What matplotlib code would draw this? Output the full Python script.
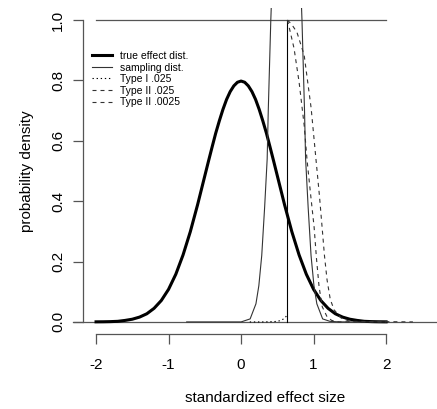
import numpy as np
import matplotlib
matplotlib.use("Agg")
import matplotlib.pyplot as plt

plt.rcParams['font.family'] = ['Liberation Sans', 'DejaVu Sans']

# true effect distribution
true_x = [-2.0, -1.9, -1.8, -1.7, -1.6, -1.5, -1.4, -1.3, -1.2, -1.1, -1.0,
          -0.9, -0.8, -0.7, -0.6, -0.5, -0.45, -0.4, -0.35, -0.3, -0.25, -0.2, -0.15, -0.1, -0.05, 0.0,
          0.05, 0.1, 0.15, 0.2, 0.25, 0.3, 0.35, 0.4, 0.45, 0.5, 0.6, 0.7, 0.8, 0.9, 1.0,
          1.1, 1.2, 1.3, 1.4, 1.5, 1.6, 1.7, 1.8, 1.9, 2.0]
true_y = [0.0003, 0.0005, 0.001, 0.002, 0.005, 0.009, 0.016, 0.027, 0.045, 0.071, 0.108,
          0.158, 0.222, 0.299, 0.388, 0.484, 0.532, 0.579, 0.625, 0.666, 0.704, 0.737, 0.763, 0.782, 0.794, 0.798,
          0.794, 0.782, 0.763, 0.737, 0.704, 0.666, 0.625, 0.579, 0.532, 0.484, 0.388, 0.299, 0.222, 0.158, 0.108,
          0.071, 0.045, 0.027, 0.016, 0.009, 0.005, 0.002, 0.001, 0.0005, 0.0003]

# sampling distribution (peak runs off the top)
samp_x = [-0.75, 0.0, 0.025, 0.125, 0.205, 0.245, 0.285, 0.325, 0.36, 0.375, 0.41,
          0.425, 0.475, 0.525, 0.575, 0.625, 0.675, 0.725, 0.775, 0.825, 0.84,
          0.875, 0.89, 0.925, 0.965, 1.005, 1.045, 1.125, 1.225, 1.35, 2.0]
samp_y = [0, 0, 0.002, 0.01, 0.06, 0.12, 0.22, 0.38, 0.54, 0.7, 1.0,
          1.1, 1.6, 2.2, 2.7, 2.9, 2.7, 2.2, 1.6, 1.1, 1.0,
          0.7, 0.54, 0.38, 0.22, 0.12, 0.06, 0.01, 0.002, 0, 0]

# Type I .025 (dotted)
t1_x = [0.12, 0.3, 0.45, 0.5, 0.55, 0.6, 0.62, 0.64]
t1_y = [0, 0, 0.001, 0.002, 0.005, 0.012, 0.018, 0.025]

# Type II .025
t2a_x = [0.64, 0.65, 0.73, 0.80, 0.87, 0.91, 0.96, 1.007, 1.04, 1.076, 1.12, 1.186, 1.25, 1.35, 2.0]
t2a_y = [1.0, 0.99, 0.907, 0.795, 0.652, 0.536, 0.42, 0.315, 0.21, 0.116, 0.05, 0.017, 0.005, 0, 0]

# Type II .0025
t2b_x = [0.64, 0.66, 0.7, 0.77, 0.87, 0.966, 1.034, 1.08, 1.117, 1.15, 1.186, 1.23, 1.283, 1.38, 1.5, 2.37]
t2b_y = [1.0, 0.995, 0.985, 0.96, 0.884, 0.709, 0.536, 0.42, 0.315, 0.22, 0.139, 0.075, 0.04, 0.013, 0.002, 0]

crit = 0.64
xticks = [-2, -1, 0, 1, 2]
yticks = [0.0, 0.2, 0.4, 0.6, 0.8, 1.0]
labels = ['true effect dist.', 'sampling dist.', 'Type I .025', 'Type II .025', 'Type II .0025']

W, H = 437, 409
fig = plt.figure(figsize=(W / 100, H / 100), dpi=100)
ax = fig.add_axes([83 / W, 75 / H, 364 / W, 326 / H])
ax.set_xlim(-2.18, 2.84)
ax.set_ylim(-0.04, 1.04)

gray = '#555555'
dash = (0, (3.6, 3.6))

ax.axhline(0, xmin=-0.0275, xmax=1, color=gray, lw=0.9, clip_on=False)
ax.plot([-2, 2], [1, 1], color=gray, lw=0.9)
ax.plot([crit, crit], [0, 1], color='black', lw=0.8)

l1, = ax.plot(true_x, true_y, color='black', lw=2.2)
l2, = ax.plot(samp_x, samp_y, color='#333333', lw=0.8)
l3, = ax.plot(t1_x, t1_y, color='black', lw=0.8, linestyle=(0, (1.2, 2.5)))
l4, = ax.plot(t2a_x, t2a_y, color='#333333', lw=0.8, linestyle=dash)
l5, = ax.plot(t2b_x, t2b_y, color='#333333', lw=0.8, linestyle=dash)

ax.legend([l1, l2, l3, l4, l5], labels, loc='upper left',
          bbox_to_anchor=(92 / W, 1 - 51 / H), bbox_transform=fig.transFigure,
          frameon=False, fontsize=7.5, handlelength=1.95, handletextpad=0.75,
          labelspacing=0.15, borderpad=0, borderaxespad=0)

for s in ['top', 'right']:
    ax.spines[s].set_visible(False)
ax.spines['left'].set_bounds(0, 1)
ax.spines['bottom'].set_bounds(-2, 2)
for s in ['left', 'bottom']:
    ax.spines[s].set_color(gray)
    ax.spines[s].set_linewidth(0.9)

ax.set_xticks(xticks)
ax.set_xticklabels([str(v) for v in xticks])
ax.set_yticks(yticks)
ax.set_yticklabels(['%.1f' % v for v in yticks], rotation=90, va='center')
ax.tick_params(axis='both', direction='out', length=7, width=0.9, color=gray, labelsize=11)
ax.tick_params(axis='x', pad=10)
ax.tick_params(axis='y', pad=6)

ax.set_xlabel('standardized effect size', fontsize=11, labelpad=14)
ax.set_ylabel('probability density', fontsize=11, labelpad=12)

fig.savefig('out.png', dpi=100)
